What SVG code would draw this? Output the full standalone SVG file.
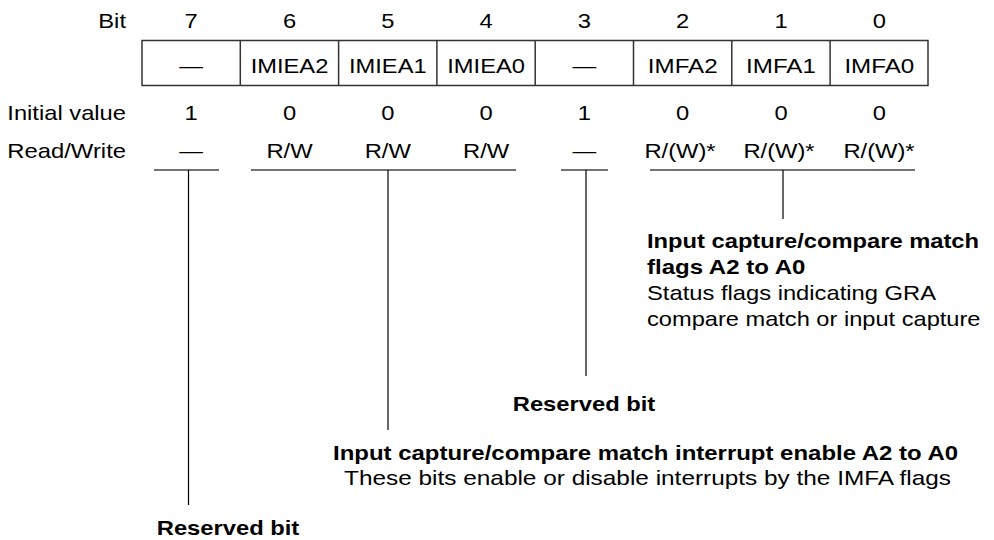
<svg xmlns="http://www.w3.org/2000/svg" width="994" height="540" viewBox="0 0 994 540">
<style>
text{font-family:"Liberation Sans",Arial,sans-serif;font-size:21px;fill:#000}
.c{text-anchor:middle}
.r{text-anchor:end}
.b{font-weight:bold}
.box{fill:#fff;stroke:#333;stroke-width:1.5}
.ln{stroke:#000;stroke-width:1.2;fill:none}
.br{stroke:#444;stroke-width:1.5;fill:none}
</style>
<rect width="994" height="540" fill="#fff"/>
<g id="labels">
<text class="r" x="126" y="27.5" textLength="27.7" lengthAdjust="spacingAndGlyphs">Bit</text>
<text class="r" x="126" y="120" textLength="118.7" lengthAdjust="spacingAndGlyphs">Initial value</text>
<text class="r" x="126" y="158" textLength="118.7" lengthAdjust="spacingAndGlyphs">Read/Write</text>
</g>
<g id="bitnums">
<text class="c" x="191.2" y="27.5" textLength="13.2" lengthAdjust="spacingAndGlyphs">7</text>
<text class="c" x="289.5" y="27.5" textLength="13.2" lengthAdjust="spacingAndGlyphs">6</text>
<text class="c" x="387.8" y="27.5" textLength="13.2" lengthAdjust="spacingAndGlyphs">5</text>
<text class="c" x="486.1" y="27.5" textLength="13.2" lengthAdjust="spacingAndGlyphs">4</text>
<text class="c" x="584.4" y="27.5" textLength="13.2" lengthAdjust="spacingAndGlyphs">3</text>
<text class="c" x="682.7" y="27.5" textLength="13.2" lengthAdjust="spacingAndGlyphs">2</text>
<text class="c" x="781" y="27.5" textLength="13.2" lengthAdjust="spacingAndGlyphs">1</text>
<text class="c" x="879.3" y="27.5" textLength="13.2" lengthAdjust="spacingAndGlyphs">0</text>
</g>
<g id="register">
<rect class="box" x="142" y="40.5" width="786" height="45"/>
<line class="box" x1="240.3" y1="40.5" x2="240.3" y2="85.5"/>
<line class="box" x1="338.6" y1="40.5" x2="338.6" y2="85.5"/>
<line class="box" x1="436.9" y1="40.5" x2="436.9" y2="85.5"/>
<line class="box" x1="535.2" y1="40.5" x2="535.2" y2="85.5"/>
<line class="box" x1="633.5" y1="40.5" x2="633.5" y2="85.5"/>
<line class="box" x1="731.8" y1="40.5" x2="731.8" y2="85.5"/>
<line class="box" x1="830.1" y1="40.5" x2="830.1" y2="85.5"/>
<text class="c" x="191.2" y="72.5" textLength="23.7" lengthAdjust="spacingAndGlyphs">—</text>
<text class="c" x="289.5" y="72.5" textLength="77.7" lengthAdjust="spacingAndGlyphs">IMIEA2</text>
<text class="c" x="387.8" y="72.5" textLength="77.7" lengthAdjust="spacingAndGlyphs">IMIEA1</text>
<text class="c" x="486.1" y="72.5" textLength="77.7" lengthAdjust="spacingAndGlyphs">IMIEA0</text>
<text class="c" x="584.4" y="72.5" textLength="23.7" lengthAdjust="spacingAndGlyphs">—</text>
<text class="c" x="682.7" y="72.5" textLength="69.8" lengthAdjust="spacingAndGlyphs">IMFA2</text>
<text class="c" x="781" y="72.5" textLength="69.8" lengthAdjust="spacingAndGlyphs">IMFA1</text>
<text class="c" x="879.3" y="72.5" textLength="69.8" lengthAdjust="spacingAndGlyphs">IMFA0</text>
</g>
<g id="initial">
<text class="c" x="191.2" y="120" textLength="13.2" lengthAdjust="spacingAndGlyphs">1</text>
<text class="c" x="289.5" y="120" textLength="13.2" lengthAdjust="spacingAndGlyphs">0</text>
<text class="c" x="387.8" y="120" textLength="13.2" lengthAdjust="spacingAndGlyphs">0</text>
<text class="c" x="486.1" y="120" textLength="13.2" lengthAdjust="spacingAndGlyphs">0</text>
<text class="c" x="584.4" y="120" textLength="13.2" lengthAdjust="spacingAndGlyphs">1</text>
<text class="c" x="682.7" y="120" textLength="13.2" lengthAdjust="spacingAndGlyphs">0</text>
<text class="c" x="781" y="120" textLength="13.2" lengthAdjust="spacingAndGlyphs">0</text>
<text class="c" x="879.3" y="120" textLength="13.2" lengthAdjust="spacingAndGlyphs">0</text>
</g>
<g id="rw">
<text class="c" x="191.2" y="158" textLength="23.7" lengthAdjust="spacingAndGlyphs">—</text>
<text class="c" x="289.5" y="158" textLength="46.2" lengthAdjust="spacingAndGlyphs">R/W</text>
<text class="c" x="387.8" y="158" textLength="46.2" lengthAdjust="spacingAndGlyphs">R/W</text>
<text class="c" x="486.1" y="158" textLength="46.2" lengthAdjust="spacingAndGlyphs">R/W</text>
<text class="c" x="584.4" y="158" textLength="23.7" lengthAdjust="spacingAndGlyphs">—</text>
<text class="c" x="680" y="158" textLength="71.2" lengthAdjust="spacingAndGlyphs">R/(W)*</text>
<text class="c" x="779" y="158" textLength="71.2" lengthAdjust="spacingAndGlyphs">R/(W)*</text>
<text class="c" x="879" y="158" textLength="71.2" lengthAdjust="spacingAndGlyphs">R/(W)*</text>
</g>
<g id="connectors">
<line class="br" x1="154" y1="170" x2="219" y2="170"/>
<line class="ln" x1="188.5" y1="170" x2="188.5" y2="505"/>
<line class="br" x1="251" y1="170" x2="516" y2="170"/>
<line class="ln" x1="388" y1="170" x2="388" y2="430"/>
<line class="br" x1="561" y1="170" x2="608" y2="170"/>
<line class="ln" x1="586" y1="170" x2="586" y2="376"/>
<line class="br" x1="650" y1="170" x2="915" y2="170"/>
<line class="ln" x1="783" y1="170" x2="783" y2="219"/>
</g>
<g id="note-imfa">
<text class="b" x="647" y="247.5" textLength="332" lengthAdjust="spacingAndGlyphs">Input capture/compare match</text>
<text class="b" x="647" y="273.5" textLength="158.4" lengthAdjust="spacingAndGlyphs">flags A2 to A0</text>
<text x="647" y="299.5" textLength="289" lengthAdjust="spacingAndGlyphs">Status flags indicating GRA</text>
<text x="647" y="325.5" textLength="333.5" lengthAdjust="spacingAndGlyphs">compare match or input capture</text>
</g>
<g id="note-reserved3">
<text class="b c" x="584" y="411" textLength="142.5" lengthAdjust="spacingAndGlyphs">Reserved bit</text>
</g>
<g id="note-imiea">
<text class="b" x="333" y="460" textLength="625" lengthAdjust="spacingAndGlyphs">Input capture/compare match interrupt enable A2 to A0</text>
<text x="344" y="485" textLength="607" lengthAdjust="spacingAndGlyphs">These bits enable or disable interrupts by the IMFA flags</text>
</g>
<g id="note-reserved7">
<text class="b c" x="228" y="534.5" textLength="142.5" lengthAdjust="spacingAndGlyphs">Reserved bit</text>
</g>
</svg>
